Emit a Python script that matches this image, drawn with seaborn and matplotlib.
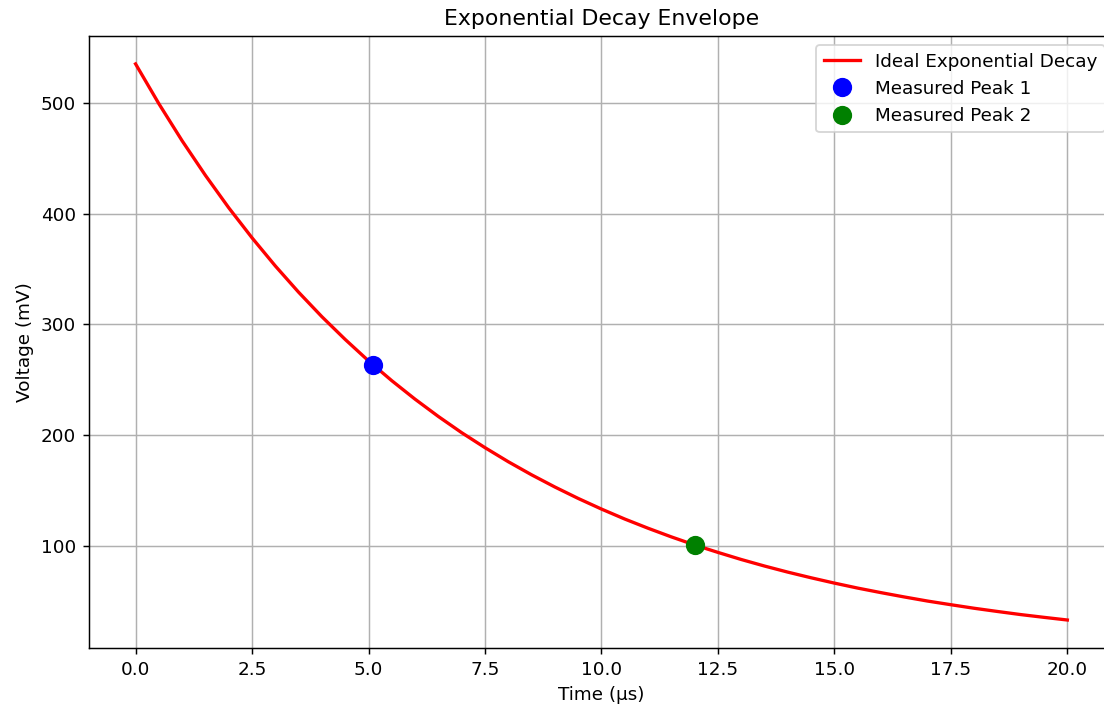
import numpy as np
import pandas as pd
import seaborn as sns
import matplotlib
matplotlib.use("Agg")
import matplotlib.pyplot as plt

#%% data
t_us = [0.0, 0.5, 1.0, 1.5, 2.0, 2.5, 3.0, 3.5, 4.0, 4.5, 5.0, 5.5, 6.0, 6.5, 7.0,
        7.5, 8.0, 8.5, 9.0, 9.5, 10.0, 10.5, 11.0, 11.5, 12.0, 12.5, 13.0, 13.5,
        14.0, 14.5, 15.0, 15.5, 16.0, 16.5, 17.0, 17.5, 18.0, 18.5, 19.0, 19.5, 20.0]
v_mv = [535.0, 499.1, 465.6, 434.4, 405.2, 378.1, 352.7, 329.0, 306.9, 286.4,
        267.1, 249.2, 232.5, 216.9, 202.3, 188.8, 176.1, 164.3, 153.3, 143.0,
        133.4, 124.4, 116.1, 108.3, 101.0, 94.3, 87.9, 82.0, 76.5, 71.4, 66.6,
        62.1, 58.0, 54.1, 50.4, 47.1, 43.9, 41.0, 38.2, 35.7, 33.3]

peak1_t = [5.1]
peak1_v = [263]
peak2_t = [12.0]
peak2_v = [101]

curve = pd.DataFrame({"t": t_us, "v": v_mv})

#%% plot
DPI = 132
fig, ax = plt.subplots(figsize=(1104 / DPI, 708 / DPI), dpi=DPI)
sns.lineplot(data=curve, x="t", y="v", color="red", linewidth=1.8,
             label="Ideal Exponential Decay", ax=ax)
ax.plot(peak1_t, peak1_v, "o", color="blue", markersize=9.5, label="Measured Peak 1")
ax.plot(peak2_t, peak2_v, "o", color="green", markersize=9.5, label="Measured Peak 2")

ax.set_title("Exponential Decay Envelope")
ax.set_xlabel("Time (µs)")
ax.set_ylabel("Voltage (mV)")
ax.grid(True)
ax.legend(loc="upper right")

# right spine falls just outside the picture, as in the reference
plt.subplots_adjust(left=0.0806, right=1.009, top=0.949, bottom=0.085)
fig.savefig("out.png", dpi=DPI)
